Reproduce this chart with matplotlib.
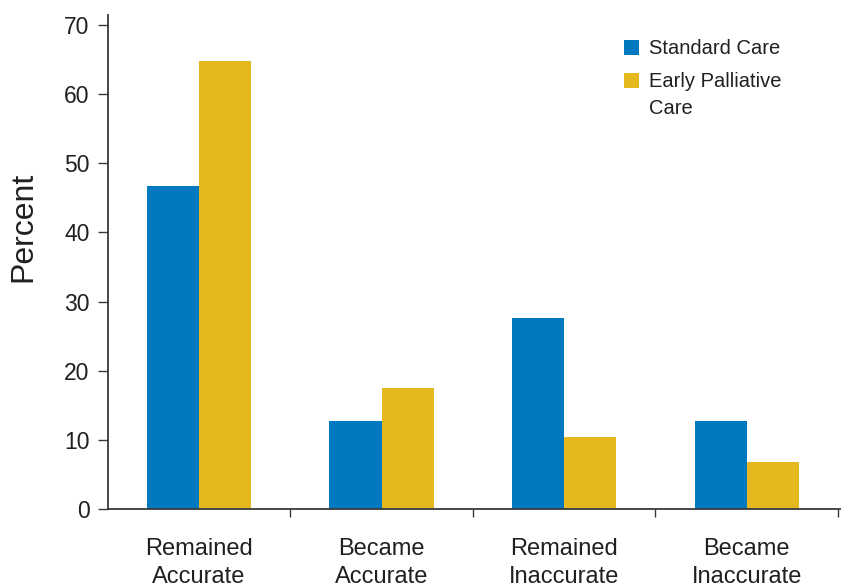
import numpy as np
import matplotlib.pyplot as plt
from matplotlib.patches import Rectangle

plt.rcParams['font.family'] = ['Liberation Sans', 'DejaVu Sans']

# data
categories = ['Remained\nAccurate', 'Became\nAccurate', 'Remained\nInaccurate', 'Became\nInaccurate']
standard_care = [46.7, 12.7, 27.7, 12.7]
early_palliative = [64.7, 17.5, 10.4, 6.8]
series_names = ['Standard Care', 'Early Palliative\nCare']
yticks = [0, 10, 20, 30, 40, 50, 60, 70]

blue = '#0079c1'
gold = '#e6b820'
txt = '#231f20'
axc = '#3a3a3a'

fig = plt.figure(figsize=(8.41, 5.87), dpi=100)
ax = fig.add_axes([107.7 / 841, 77.7 / 587, (841 - 107.7) / 841, (509.3 - 15) / 587])

x = np.arange(len(categories))
w = 0.286
ax.bar(x - w / 2, standard_care, width=w, color=blue, linewidth=0, zorder=2)
ax.bar(x + w / 2, early_palliative, width=w, color=gold, linewidth=0, zorder=2)

ax.set_xlim(-0.5, 3.5 + 3 / 183)
ax.set_ylim(0, 71.4)

# spines
for s in ['top', 'right']:
    ax.spines[s].set_visible(False)
for s in ['left', 'bottom']:
    ax.spines[s].set_color(axc)
    ax.spines[s].set_linewidth(1.3)

ax.set_yticks(yticks)
ax.tick_params(axis='y', direction='out', length=7.5, width=1.0, color=axc,
               pad=5.5, labelsize=16.5, labelcolor=txt)

# category labels at group centres, tick marks at group boundaries
ax.set_xticks(x)
ax.set_xticklabels(categories, linespacing=1.37)
ax.set_xticks(x + 0.5, minor=True)
ax.tick_params(axis='x', which='major', length=0, pad=20.5, labelsize=17, labelcolor=txt)
ax.tick_params(axis='x', which='minor', direction='out', length=5.5, width=1.0, color=axc)

ax.set_ylabel('Percent', fontsize=23, color=txt)
ax.yaxis.set_label_coords(-0.094, 0.571)

# legend drawn by hand so the square lines up with the first text line
for i, (name, col) in enumerate(zip(series_names, [blue, gold])):
    y0 = 1 - (40 + 33 * i) / 587
    fig.patches.append(Rectangle((624 / 841, y0 - 15 / 587), 15 / 841, 15 / 587,
                                 transform=fig.transFigure, color=col, linewidth=0))
    fig.text(649 / 841, y0 + 1 / 587, name, fontsize=14.5, color=txt, va='top', ha='left',
             linespacing=1.56)

fig.savefig('out.png', dpi=100)
